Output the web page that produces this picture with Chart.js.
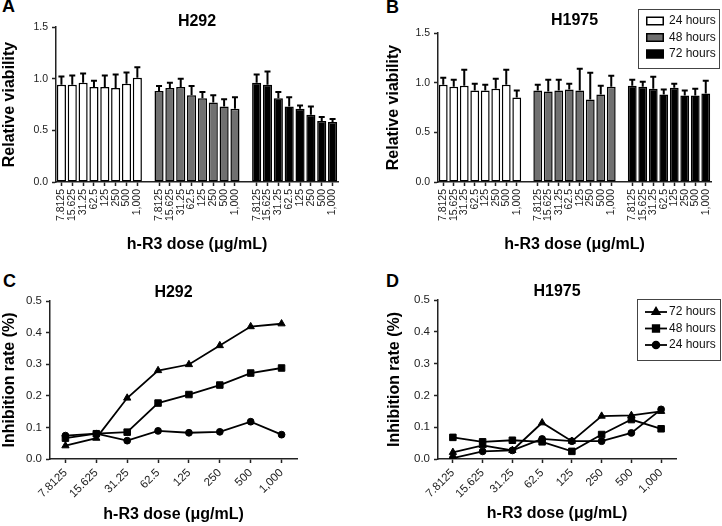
<!DOCTYPE html>
<html>
<head>
<meta charset="utf-8">
<script src="https://cdn.jsdelivr.net/npm/chart.js@4.4.1/dist/chart.umd.min.js"></script>
<style>
body { margin: 0; background: #fff; width: 722px; height: 526px; position: relative; overflow: hidden; font-family: 'Liberation Sans', Arial, sans-serif; }
canvas { position: absolute; }
.tag { position: absolute; font-weight: bold; font-size: 18px; line-height: 18px; color: #000; }
</style>
</head>
<body>
<div class="tag" style="left:2px;top:-3px">A</div>
<div class="tag" style="left:386px;top:-2px">B</div>
<div class="tag" style="left:3px;top:272px">C</div>
<div class="tag" style="left:386px;top:272px">D</div>
<canvas id="pa" width="361" height="265" style="left:0;top:0"></canvas>
<canvas id="pb" width="361" height="265" style="left:361px;top:0"></canvas>
<canvas id="pc" width="361" height="256" style="left:0;top:270px"></canvas>
<canvas id="pd" width="361" height="256" style="left:361px;top:270px"></canvas>
<script>
'use strict';

/* global Chart */

const doses = ['7.8125', '15.625', '31.25', '62.5', '125', '250', '500', '1,000'];
const times = ['24 hours', '48 hours', '72 hours'];

// relative viability (mean, SD) - H292
const h292Mean24 = [0.94, 0.94, 0.96, 0.92, 0.92, 0.91, 0.95, 1.01];
const h292Sd24 = [0.08, 0.09, 0.09, 0.06, 0.11, 0.13, 0.11, 0.10];
const h292Mean48 = [0.88, 0.91, 0.92, 0.84, 0.81, 0.77, 0.73, 0.71];
const h292Sd48 = [0.05, 0.05, 0.08, 0.09, 0.06, 0.07, 0.07, 0.11];
const h292Mean72 = [0.96, 0.94, 0.81, 0.73, 0.71, 0.65, 0.59, 0.58];
const h292Sd72 = [0.08, 0.13, 0.06, 0.09, 0.03, 0.08, 0.04, 0.03];

// relative viability (mean, SD) - H1975
const h1975Mean24 = [0.98, 0.96, 0.97, 0.92, 0.92, 0.94, 0.98, 0.85];
const h1975Sd24 = [0.07, 0.07, 0.16, 0.07, 0.06, 0.10, 0.15, 0.07];
const h1975Mean48 = [0.92, 0.91, 0.92, 0.93, 0.92, 0.83, 0.88, 0.96];
const h1975Sd48 = [0.06, 0.12, 0.11, 0.06, 0.22, 0.27, 0.09, 0.11];
const h1975Mean72 = [0.97, 0.96, 0.94, 0.88, 0.95, 0.87, 0.87, 0.89];
const h1975Sd72 = [0.06, 0.05, 0.12, 0.05, 0.04, 0.05, 0.07, 0.13];

// inhibition rate - H292
const h292Inh72 = [0.042, 0.066, 0.193, 0.280, 0.299, 0.359, 0.419, 0.428];
const h292Inh48 = [0.066, 0.080, 0.085, 0.177, 0.204, 0.234, 0.272, 0.288];
const h292Inh24 = [0.074, 0.080, 0.058, 0.089, 0.083, 0.086, 0.118, 0.077];

// inhibition rate - H1975
const h1975Inh72 = [0.021, 0.043, 0.027, 0.114, 0.056, 0.135, 0.137, 0.150];
const h1975Inh48 = [0.068, 0.054, 0.059, 0.054, 0.024, 0.077, 0.124, 0.095];
const h1975Inh24 = [0.003, 0.024, 0.027, 0.063, 0.056, 0.056, 0.082, 0.156];

const barLabels = [...doses, '', ...doses, '', ...doses];
const barFills = ['#ffffff', '#707070', '#000000'];
const ink = '#222';

Chart.defaults.font.family = "'Liberation Sans', Arial, sans-serif";
Chart.defaults.color = ink;

function place(vals, g) {
    const out = new Array(barLabels.length).fill(null);
    vals.forEach((v, k) => { out[g * 9 + k] = v; });
    return out;
}

function barSets(means, sds) {
    return means.map((m, g) => ({
        label: times[g],
        data: place(m, g),
        errors: place(sds[g], g),
        backgroundColor: barFills[g],
        borderColor: '#000',
        borderWidth: 1.5,
        borderSkipped: false,
        grouped: false,
        barPercentage: 0.84,
        categoryPercentage: 1
    }));
}

function lineSets(series) {
    const styles = [['triangle', 4.2], ['rect', 4.6], ['circle', 3.4]];
    return series.map((s, i) => ({
        label: times[2 - i],
        data: s,
        borderColor: '#000',
        backgroundColor: '#000',
        borderWidth: 1.8,
        pointStyle: styles[i][0],
        pointRadius: styles[i][1],
        pointBorderWidth: 1,
        tension: 0
    }));
}

const errorBars = {
    id: 'errorBars',
    afterDatasetsDraw(chart) {
        const ctx = chart.ctx, y = chart.scales.y;
        ctx.save();
        ctx.strokeStyle = '#000';
        ctx.lineWidth = 2;
        chart.data.datasets.forEach((ds, i) => {
            if (!ds.errors) return;
            chart.getDatasetMeta(i).data.forEach((bar, j) => {
                if (ds.data[j] == null) return;
                const top = y.getPixelForValue(ds.data[j] + ds.errors[j]);
                ctx.beginPath();
                ctx.moveTo(bar.x, bar.y);
                ctx.lineTo(bar.x, top);
                ctx.moveTo(bar.x - 3, top);
                ctx.lineTo(bar.x + 3, top);
                ctx.stroke();
            });
        });
        ctx.restore();
    }
};

const boxLegend = {
    id: 'boxLegend',
    afterDraw(chart, args, o) {
        if (!o || !o.w) return;
        const ctx = chart.ctx;
        ctx.save();
        ctx.strokeStyle = '#444';
        ctx.lineWidth = 1;
        ctx.strokeRect(o.x + 0.5, o.y + 0.5, o.w, o.h);
        ctx.font = "12px 'Liberation Sans', Arial, sans-serif";
        ctx.fillStyle = '#111';
        ctx.textBaseline = 'middle';
        chart.data.datasets.forEach((ds, i) => {
            const cy = o.y + o.first + i * o.gap;
            if (o.kind === 'bar') {
                ctx.fillStyle = ds.backgroundColor;
                ctx.fillRect(o.x + 8, cy - 4.5, 18, 9);
                ctx.strokeStyle = '#000';
                ctx.lineWidth = 1.5;
                ctx.strokeRect(o.x + 8.75, cy - 3.75, 16.5, 7.5);
            } else {
                ctx.strokeStyle = '#000';
                ctx.lineWidth = 1.8;
                ctx.beginPath();
                ctx.moveTo(o.x + 8, cy);
                ctx.lineTo(o.x + 30, cy);
                ctx.stroke();
                ctx.fillStyle = '#000';
                Chart.helpers.drawPoint(ctx, {pointStyle: ds.pointStyle, radius: ds.pointRadius, rotation: 0, borderWidth: 1}, o.x + 19, cy);
            }
            ctx.fillStyle = '#111';
            ctx.fillText(ds.label, o.x + o.textX, cy);
        });
        ctx.restore();
    }
};

function makeChart(id, g, type, labels, datasets, yMax, yStep, yTitle, title, rot, tickSize, legend) {
    const half = 9.6;
    const tickColor = (c) => (labels[c.index] === '' ? 'rgba(0,0,0,0)' : ink);
    return new Chart(document.getElementById(id), {
        type: type,
        data: {labels: labels, datasets: datasets},
        options: {
            responsive: false,
            animation: false,
            devicePixelRatio: 1,
            layout: {padding: {left: g.yTitleX - half, right: g.w - g.r, top: 0, bottom: 0}},
            plugins: {
                legend: {display: false},
                tooltip: {enabled: false},
                title: {
                    display: true, text: title, fullSize: false, color: '#000',
                    font: {size: 16, weight: 'bold'},
                    padding: {top: g.titleY - half, bottom: g.t - g.titleY - half}
                },
                boxLegend: legend || {}
            },
            scales: {
                x: {
                    offset: true,
                    grid: {offset: false, drawOnChartArea: false, drawTicks: true, tickLength: 4, tickWidth: 1.5, tickColor: tickColor},
                    border: {display: true, color: ink, width: 1.5},
                    ticks: {autoSkip: false, minRotation: rot, maxRotation: rot, padding: 3, font: {size: tickSize}, color: ink},
                    title: {
                        display: true, text: 'h-R3 dose (μg/mL)', color: '#000',
                        font: {size: 16, weight: 'bold'},
                        padding: {top: 0, bottom: g.h - g.xTitleY - half}
                    },
                    afterFit: (s) => { s.height = g.h - g.b; }
                },
                y: {
                    min: 0, max: yMax,
                    grid: {drawOnChartArea: false, drawTicks: true, tickLength: 4, tickWidth: 1.5, tickColor: ink},
                    border: {display: true, color: ink, width: 1.5},
                    ticks: {stepSize: yStep, padding: 4, font: {size: tickSize}, color: ink, callback: (v) => v.toFixed(1)},
                    title: {
                        display: true, text: yTitle, color: '#000',
                        font: {size: 16, weight: 'bold'}, padding: 0
                    },
                    afterFit: (s) => { s.width = g.l - (g.yTitleX - half); }
                }
            }
        },
        plugins: [errorBars, boxLegend]
    });
}

makeChart('pa', {w: 361, h: 265, l: 56, t: 27, r: 338, b: 182, titleY: 22, yTitleX: 10, xTitleY: 245},
    'bar', barLabels, barSets([h292Mean24, h292Mean48, h292Mean72], [h292Sd24, h292Sd48, h292Sd72]),
    1.5, 0.5, 'Relative viability', 'H292', 90, 10.5);

makeChart('pb', {w: 361, h: 265, l: 77, t: 33, r: 350, b: 182, titleY: 21, yTitleX: 33, xTitleY: 245},
    'bar', barLabels, barSets([h1975Mean24, h1975Mean48, h1975Mean72], [h1975Sd24, h1975Sd48, h1975Sd72]),
    1.5, 0.5, 'Relative viability', 'H1975', 90, 10.5,
    {kind: 'bar', x: 277, y: 9, w: 81, h: 59, first: 12, gap: 16.5, textX: 31});

makeChart('pc', {w: 361, h: 256, l: 50, t: 31, r: 297, b: 189, titleY: 23, yTitleX: 10, xTitleY: 245},
    'line', doses, lineSets([h292Inh72, h292Inh48, h292Inh24]),
    0.5, 0.1, 'Inhibition rate (%)', 'H292', 45, 11.5);

makeChart('pd', {w: 361, h: 256, l: 77, t: 30, r: 315, b: 189, titleY: 22, yTitleX: 34, xTitleY: 244},
    'line', doses, lineSets([h1975Inh72, h1975Inh48, h1975Inh24]),
    0.5, 0.1, 'Inhibition rate (%)', 'H1975', 45, 11.5,
    {kind: 'line', x: 276, y: 29, w: 83, h: 61, first: 13, gap: 16.5, textX: 32});
</script>
</body>
</html>
